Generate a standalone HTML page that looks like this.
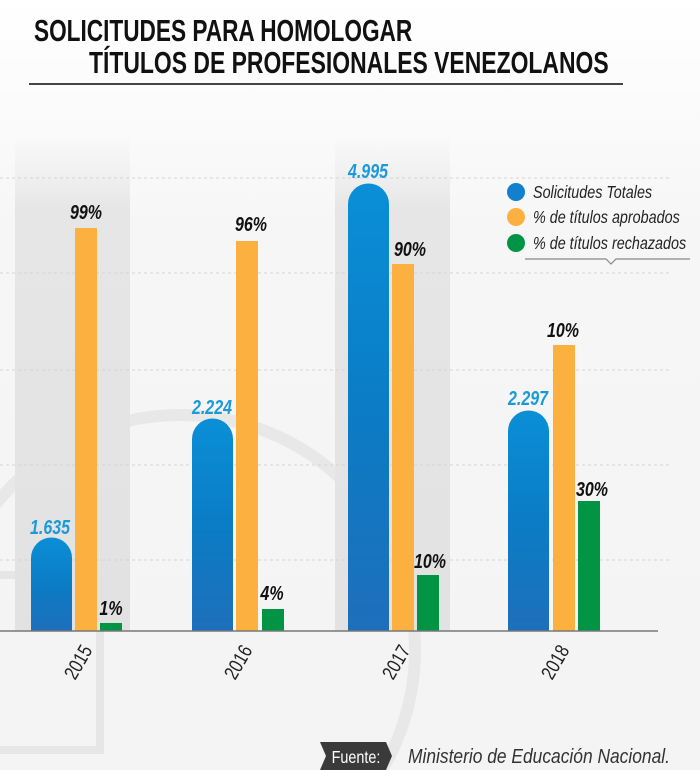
<!DOCTYPE html>
<html><head><meta charset="utf-8"><style>
html,body{margin:0;padding:0;background:#fff;width:700px;height:770px;overflow:hidden}
svg{display:block}
text{font-family:"Liberation Sans",sans-serif}
</style></head><body>
<svg width="700" height="770" viewBox="0 0 700 770" xmlns="http://www.w3.org/2000/svg">
<defs>
<linearGradient id="bg" x1="0" y1="0" x2="0" y2="1">
<stop offset="0" stop-color="#ffffff"/><stop offset="0.3" stop-color="#f6f6f6"/><stop offset="1" stop-color="#f4f4f4"/></linearGradient>
<linearGradient id="col" x1="0" y1="0" x2="0" y2="1">
<stop offset="0" stop-color="#ebebeb" stop-opacity="0"/><stop offset="0.15" stop-color="#e6e6e6"/><stop offset="1" stop-color="#e2e2e2"/></linearGradient>
<linearGradient id="blue" x1="0" y1="0" x2="0" y2="1">
<stop offset="0" stop-color="#0a8fd6"/><stop offset="0.5" stop-color="#0b7cc6"/><stop offset="1" stop-color="#1e6fba"/></linearGradient>
</defs>
<rect width="700" height="770" fill="url(#bg)"/>
<circle cx="180" cy="650" r="235" fill="none" stroke="#e8e8e8" stroke-width="12"/>
<rect x="-20" y="575" width="120" height="175" fill="none" stroke="#e6e6e6" stroke-width="8"/>
<rect x="15" y="135" width="115" height="496" fill="url(#col)"/>
<rect x="335" y="135" width="115" height="496" fill="url(#col)"/>
<g stroke="#d4d4d4" stroke-width="1" stroke-dasharray="3,3">
<line x1="0" y1="178" x2="672" y2="178"/>
<line x1="0" y1="273" x2="672" y2="273"/>
<line x1="0" y1="370" x2="672" y2="370"/>
<line x1="0" y1="465" x2="672" y2="465"/>
<line x1="0" y1="560" x2="672" y2="560"/>
</g>
<g font-weight="bold" fill="#111">
<text x="34" y="41" font-size="31" transform="translate(34 0) scale(0.73 1) translate(-34 0)">SOLICITUDES PARA HOMOLOGAR</text>
<text x="89" y="73" font-size="31" transform="translate(89 0) scale(0.74 1) translate(-89 0)">TÍTULOS DE PROFESIONALES VENEZOLANOS</text>
</g>
<line x1="29" y1="84" x2="623" y2="84" stroke="#444" stroke-width="2"/>
<g>
<path d="M31 631 V558 a20.5 20.5 0 0 1 41 0 V631Z" fill="url(#blue)"/>
<rect x="75" y="228" width="22" height="403" fill="#fbb040"/>
<rect x="100" y="623" width="22" height="8" fill="#009444"/>
<path d="M192 631 V439 a20.5 20.5 0 0 1 41 0 V631Z" fill="url(#blue)"/>
<rect x="236" y="241" width="22" height="390" fill="#fbb040"/>
<rect x="262" y="609" width="22" height="22" fill="#009444"/>
<path d="M348 631 V204 a20.5 20.5 0 0 1 41 0 V631Z" fill="url(#blue)"/>
<rect x="392" y="264" width="22" height="367" fill="#fbb040"/>
<rect x="417" y="575" width="22" height="56" fill="#009444"/>
<path d="M508 631 V431 a20.5 20.5 0 0 1 41 0 V631Z" fill="url(#blue)"/>
<rect x="553" y="345" width="22" height="286" fill="#fbb040"/>
<rect x="578" y="501" width="22" height="130" fill="#009444"/>
</g>
<line x1="0" y1="631" x2="658" y2="631" stroke="#777" stroke-width="1.5"/>
<g font-weight="bold" font-style="italic" font-size="20" text-anchor="middle">
<g fill="#1b9ad9">
<text x="50" y="534" transform="translate(50 0) scale(0.8 1) translate(-50 0)">1.635</text>
<text x="212" y="414" transform="translate(212 0) scale(0.8 1) translate(-212 0)">2.224</text>
<text x="368" y="178" transform="translate(368 0) scale(0.8 1) translate(-368 0)">4.995</text>
<text x="528" y="405" transform="translate(528 0) scale(0.8 1) translate(-528 0)">2.297</text>
</g>
<g fill="#111">
<text x="86" y="219" transform="translate(86 0) scale(0.8 1) translate(-86 0)">99%</text>
<text x="111" y="615" transform="translate(111 0) scale(0.8 1) translate(-111 0)">1%</text>
<text x="251" y="231" transform="translate(251 0) scale(0.8 1) translate(-251 0)">96%</text>
<text x="272" y="600" transform="translate(272 0) scale(0.8 1) translate(-272 0)">4%</text>
<text x="410" y="256" transform="translate(410 0) scale(0.8 1) translate(-410 0)">90%</text>
<text x="430" y="568" transform="translate(430 0) scale(0.8 1) translate(-430 0)">10%</text>
<text x="563" y="337" transform="translate(563 0) scale(0.8 1) translate(-563 0)">10%</text>
<text x="592" y="496" transform="translate(592 0) scale(0.8 1) translate(-592 0)">30%</text>
</g>
</g>
<g font-size="20" fill="#222" text-anchor="middle">
<text transform="translate(78 662) rotate(-60) scale(0.8 1)" dy="7">2015</text>
<text transform="translate(238 662) rotate(-60) scale(0.8 1)" dy="7">2016</text>
<text transform="translate(396 662) rotate(-60) scale(0.8 1)" dy="7">2017</text>
<text transform="translate(555 662) rotate(-60) scale(0.8 1)" dy="7">2018</text>
</g>
<circle cx="516" cy="192" r="9" fill="#1181cf"/>
<circle cx="516" cy="217" r="9" fill="#fbb040"/>
<circle cx="516" cy="243" r="9" fill="#009444"/>
<g font-size="17.5" font-style="italic" fill="#222">
<text x="533" y="198" transform="translate(533 0) scale(0.82 1) translate(-533 0)">Solicitudes Totales</text>
<text x="533" y="223" transform="translate(533 0) scale(0.82 1) translate(-533 0)">% de títulos aprobados</text>
<text x="533" y="249" transform="translate(533 0) scale(0.82 1) translate(-533 0)">% de títulos rechazados</text>
</g>
<polyline points="525,259 606,259 611,264 616,259 690,259" fill="none" stroke="#888" stroke-width="1.2"/>
<polygon points="320,742 386,742 392,756 386,770 320,770 326,756" fill="#3a3a3a"/>
<text x="356" y="763" font-size="18" fill="#fff" text-anchor="middle" transform="translate(356 0) scale(0.8 1) translate(-356 0)">Fuente:</text>
<text x="408" y="763" font-size="20" font-style="italic" fill="#333" transform="translate(408 0) scale(0.87 1) translate(-408 0)">Ministerio de Educación Nacional.</text>
</svg>
</body></html>
